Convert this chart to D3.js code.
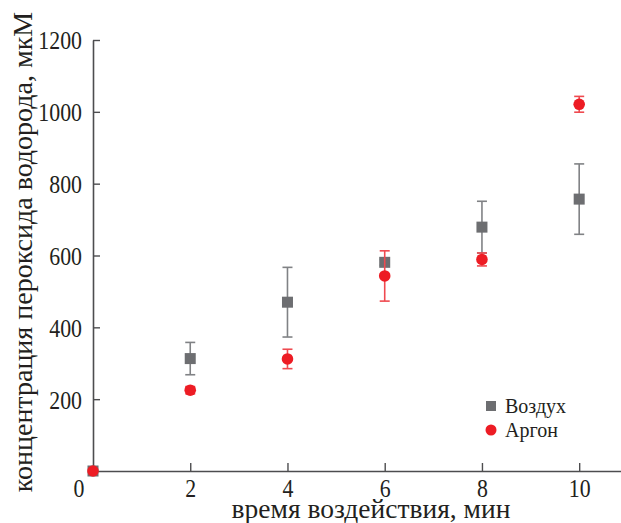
<!DOCTYPE html>
<html>
<head>
<meta charset="utf-8">
<script src="https://cdn.jsdelivr.net/npm/d3@7"></script>
<style>
  body { margin: 0; background: #fff; }
</style>
</head>
<body>
<div id="chart"></div>
<script>
// time, min
const times = [0, 2, 4, 6, 8, 10];
// air (squares)
const airValues = [0, 313, 470, 581, 679, 757];
const airErrors = [0, 45, 97, 8, 72, 98];
// argon (circles)
const argonValues = [0, 225, 312, 543, 589, 1021];
const argonErrors = [0, 10, 27, 70, 18, 22];

const xTicks = [2, 4, 6, 8, 10];
const yTicks = [200, 400, 600, 800, 1000, 1200];

const width = 621, height = 523;
const margin = {top: 40, right: 0, bottom: 52, left: 93};
const serif = "'Liberation Serif', 'Times New Roman', 'DejaVu Serif', serif";
const ink = "#231f20";
const tickFont = 26, squeeze = 0.84;

const svg = d3.select("#chart").append("svg")
    .attr("width", width)
    .attr("height", height)
    .style("font-family", serif);

const x = d3.scaleLinear()
    .domain([0, 10.86])
    .range([margin.left, width - margin.right]);

const y = d3.scaleLinear()
    .domain([0, 1200])
    .range([height - margin.bottom, margin.top]);

const axisColor = "#4d4d4f";

// x axis (ticks inward)
const xAxis = svg.append("g")
    .attr("transform", `translate(0,${y(0)})`)
    .call(d3.axisBottom(x).tickValues(xTicks).tickFormat(d3.format("d"))
        .tickSizeInner(-8).tickSizeOuter(0));
xAxis.attr("font-family", null).attr("font-size", tickFont);
xAxis.select(".domain").attr("stroke", axisColor).attr("stroke-width", 1.6);
xAxis.selectAll(".tick line").attr("stroke", axisColor).attr("stroke-width", 1.4);
xAxis.selectAll(".tick text")
    .attr("fill", ink)
    .attr("y", 26).attr("dy", 0)
    .attr("transform", `scale(${squeeze},1)`);

// y axis (ticks inward)
const yAxis = svg.append("g")
    .attr("transform", `translate(${x(0)},0)`)
    .call(d3.axisLeft(y).tickValues(yTicks).tickFormat(d3.format("d"))
        .tickSizeInner(-7).tickSizeOuter(0));
yAxis.attr("font-family", null).attr("font-size", tickFont);
yAxis.select(".domain").attr("stroke", axisColor).attr("stroke-width", 1.6);
yAxis.selectAll(".tick line").attr("stroke", axisColor).attr("stroke-width", 1.4);
yAxis.selectAll(".tick text")
    .attr("fill", ink)
    .attr("x", -11 / squeeze)
    .attr("dy", "0.34em")
    .attr("transform", `scale(${squeeze},1)`);

// shared origin label
svg.append("text")
    .attr("transform", `translate(${x(0) - 14},${y(0) + 26}) scale(${squeeze},1)`)
    .attr("text-anchor", "middle")
    .attr("font-size", tickFont)
    .attr("fill", ink)
    .text("0");

// axis titles
svg.append("text")
    .attr("x", 371)
    .attr("y", 518)
    .attr("text-anchor", "middle")
    .attr("font-size", 27.5)
    .attr("fill", ink)
    .text("время воздействия, мин");

svg.append("text")
    .attr("transform", `translate(32,252) rotate(-90)`)
    .attr("text-anchor", "middle")
    .attr("font-size", 28)
    .attr("fill", ink)
    .text("концентрация пероксида водорода, мкМ");

const airColor = "#6d6e71", airBar = "#808285";
const argonColor = "#ed1c24", argonBar = "#ef4a50";
const cap = 5;

function errorBars(vals, errs, color) {
  const g = svg.append("g").attr("stroke", color).attr("stroke-width", 1.6);
  times.forEach((t, i) => {
    if (!errs[i]) return;
    const cx = x(t), y1 = y(vals[i] + errs[i]), y2 = y(vals[i] - errs[i]);
    g.append("line").attr("x1", cx).attr("x2", cx).attr("y1", y1).attr("y2", y2);
    g.append("line").attr("x1", cx - cap).attr("x2", cx + cap).attr("y1", y1).attr("y2", y1);
    g.append("line").attr("x1", cx - cap).attr("x2", cx + cap).attr("y1", y2).attr("y2", y2);
  });
}

// air
errorBars(airValues, airErrors, airBar);
svg.selectAll("rect.air")
    .data(times.map((t, i) => ({t, v: airValues[i]})))
    .join("rect")
    .attr("class", "air")
    .attr("x", d => x(d.t) - 5.5)
    .attr("y", d => y(d.v) - 5.5)
    .attr("width", 11)
    .attr("height", 11)
    .attr("fill", airColor);

// argon
errorBars(argonValues, argonErrors, argonBar);
svg.selectAll("circle.argon")
    .data(times.map((t, i) => ({t, v: argonValues[i]})))
    .join("circle")
    .attr("class", "argon")
    .attr("cx", d => x(d.t))
    .attr("cy", d => y(d.v))
    .attr("r", 5.8)
    .attr("fill", argonColor);

// legend
const legend = svg.append("g").attr("transform", "translate(491,406)");
legend.append("rect").attr("x", -5).attr("y", -5).attr("width", 10).attr("height", 10).attr("fill", airColor);
legend.append("text").attr("x", 14).attr("y", 7).attr("font-size", 20).attr("fill", ink).text("Воздух");
legend.append("circle").attr("cx", 0).attr("cy", 24).attr("r", 5.5).attr("fill", argonColor);
legend.append("text").attr("x", 14).attr("y", 31).attr("font-size", 20).attr("fill", ink).text("Аргон");
</script>
</body>
</html>
